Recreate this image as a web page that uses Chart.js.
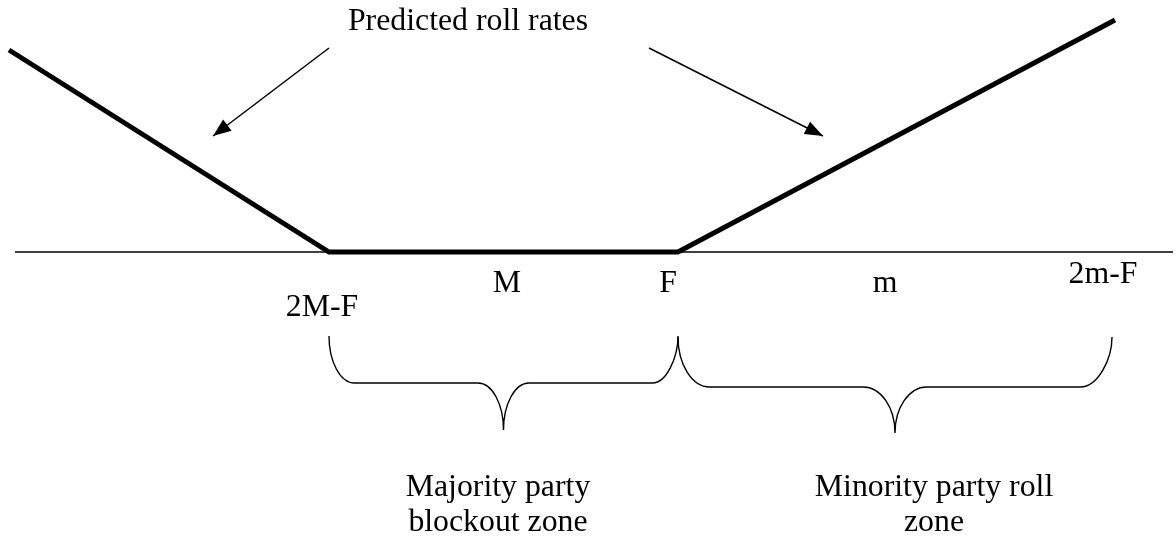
<!DOCTYPE html>
<html>
<head>
<meta charset="utf-8">
<script src="https://cdn.jsdelivr.net/npm/chart.js@4.4.1/dist/chart.umd.min.js"></script>
<style>
  html, body { margin: 0; padding: 0; background: #ffffff; }
  #wrap { width: 1176px; height: 542px; }
</style>
</head>
<body>
<div id="wrap"><canvas id="c" width="1176" height="542"></canvas></div>
<script>
// ---- Data (conceptual units: x = position on policy dimension, y = predicted roll rate) ----
const curveX = [9, 329, 678, 1115];          // vertices of the predicted roll-rate curve
const curveY = [202, 0, 0, 232];             // predicted roll rate at each vertex
const axisX = [15, 1173];                    // extent of the policy dimension
const tickLabels = ['2M-F', 'M', 'F', 'm', '2m-F'];
const tickX = [322, 507, 668, 885, 1103];
const titleText = 'Predicted roll rates';
const zoneLines = [['Majority party', 'blockout zone'], ['Minority party roll', 'zone']];
const zoneFrom = [329, 678];
const zoneTo = [678, 1112];
const arrowFromX = [329, 649];
const arrowFromY = [204, 204];
const arrowToX = [213, 823];
const arrowToY = [116, 116];

// ---- Layout for annotations (in axis units) ----
const annot = {
  font: '31.8px "Liberation Serif", "Times New Roman", serif',
  tickBaseline: [-64, -40, -40, -40, -31],
  title: { x: 468, y: 222 },
  braceTop: [-84, -85],
  braceMid: [-131, -135],
  braceTip: [-178, -181],
  zoneLabelX: [498, 934],
  zoneLine1Y: -244,
  zoneLine2Y: -279
};

const datasets = [
  {
    label: 'Predicted roll rate',
    data: curveX.map((x, i) => ({ x: x, y: curveY[i] })),
    showLine: true, borderColor: '#000', borderWidth: 5, pointRadius: 0,
    borderCapStyle: 'butt', borderJoinStyle: 'miter', tension: 0
  },
  {
    label: 'Policy dimension',
    data: axisX.map(x => ({ x: x, y: 0 })),
    showLine: true, borderColor: '#000', borderWidth: 1.5, pointRadius: 0, tension: 0
  }
];
arrowFromX.forEach((fx, i) => {
  datasets.push({
    label: 'arrow' + i,
    isArrow: true,
    data: [{ x: fx, y: arrowFromY[i] }, { x: arrowToX[i], y: arrowToY[i] }],
    showLine: true, borderColor: '#000', borderWidth: 1.5, pointRadius: 0, tension: 0
  });
});

const annotPlugin = {
  id: 'annot',
  afterDatasetsDraw(chart) {
    const ctx = chart.ctx;
    const xs = chart.scales.x, ys = chart.scales.y;
    const px = v => xs.getPixelForValue(v);
    const py = v => ys.getPixelForValue(v);
    ctx.save();
    // arrowheads
    chart.data.datasets.forEach((ds, di) => {
      if (!ds.isArrow) return;
      const pts = chart.getDatasetMeta(di).data;
      const a = pts[0], b = pts[1];
      const ang = Math.atan2(b.y - a.y, b.x - a.x);
      const L = 18, W = 7;
      ctx.beginPath();
      ctx.moveTo(b.x, b.y);
      ctx.lineTo(b.x - L * Math.cos(ang) + W * Math.sin(ang), b.y - L * Math.sin(ang) - W * Math.cos(ang));
      ctx.lineTo(b.x - L * Math.cos(ang) - W * Math.sin(ang), b.y - L * Math.sin(ang) + W * Math.cos(ang));
      ctx.closePath();
      ctx.fillStyle = '#000';
      ctx.fill();
    });
    // text
    ctx.fillStyle = '#000';
    ctx.font = annot.font;
    ctx.textAlign = 'center';
    ctx.textBaseline = 'alphabetic';
    ctx.fillText(titleText, px(annot.title.x), py(annot.title.y));
    tickLabels.forEach((t, i) => ctx.fillText(t, px(tickX[i]), py(annot.tickBaseline[i])));
    // braces
    const k = 0.5523;
    ctx.strokeStyle = '#000';
    ctx.lineWidth = 1.4;
    zoneFrom.forEach((f, i) => {
      const x0 = px(f), x1 = px(zoneTo[i]);
      const xt = (x0 + x1) / 2;
      const r = (x1 - x0) * 0.073;
      const yT = py(annot.braceTop[i]), yM = py(annot.braceMid[i]), yP = py(annot.braceTip[i]);
      const h = yM - yT, h2 = yP - yM;
      ctx.beginPath();
      ctx.moveTo(x0, yT);
      ctx.bezierCurveTo(x0, yT + k * h, x0 + (1 - k) * r, yM, x0 + r, yM);
      ctx.lineTo(xt - r, yM);
      ctx.bezierCurveTo(xt - r + k * r, yM, xt, yP - k * h2, xt, yP);
      ctx.moveTo(xt, yP);
      ctx.bezierCurveTo(xt, yP - k * h2, xt + r - k * r, yM, xt + r, yM);
      ctx.lineTo(x1 - r, yM);
      ctx.bezierCurveTo(x1 - r + k * r, yM, x1, yM - k * h, x1, yT);
      ctx.stroke();
      // zone label
      ctx.fillText(zoneLines[i][0], px(annot.zoneLabelX[i]), py(annot.zoneLine1Y));
      ctx.fillText(zoneLines[i][1], px(annot.zoneLabelX[i]), py(annot.zoneLine2Y));
    });
    ctx.restore();
  }
};

new Chart(document.getElementById('c').getContext('2d'), {
  type: 'scatter',
  data: { datasets: datasets },
  options: {
    responsive: false,
    animation: false,
    events: [],
    layout: { padding: 0 },
    plugins: { legend: { display: false }, tooltip: { enabled: false }, title: { display: false } },
    scales: {
      x: { type: 'linear', min: 0, max: 1176, display: false },
      y: { type: 'linear', min: -290, max: 252, display: false }
    }
  },
  plugins: [annotPlugin]
});
</script>
</body>
</html>
